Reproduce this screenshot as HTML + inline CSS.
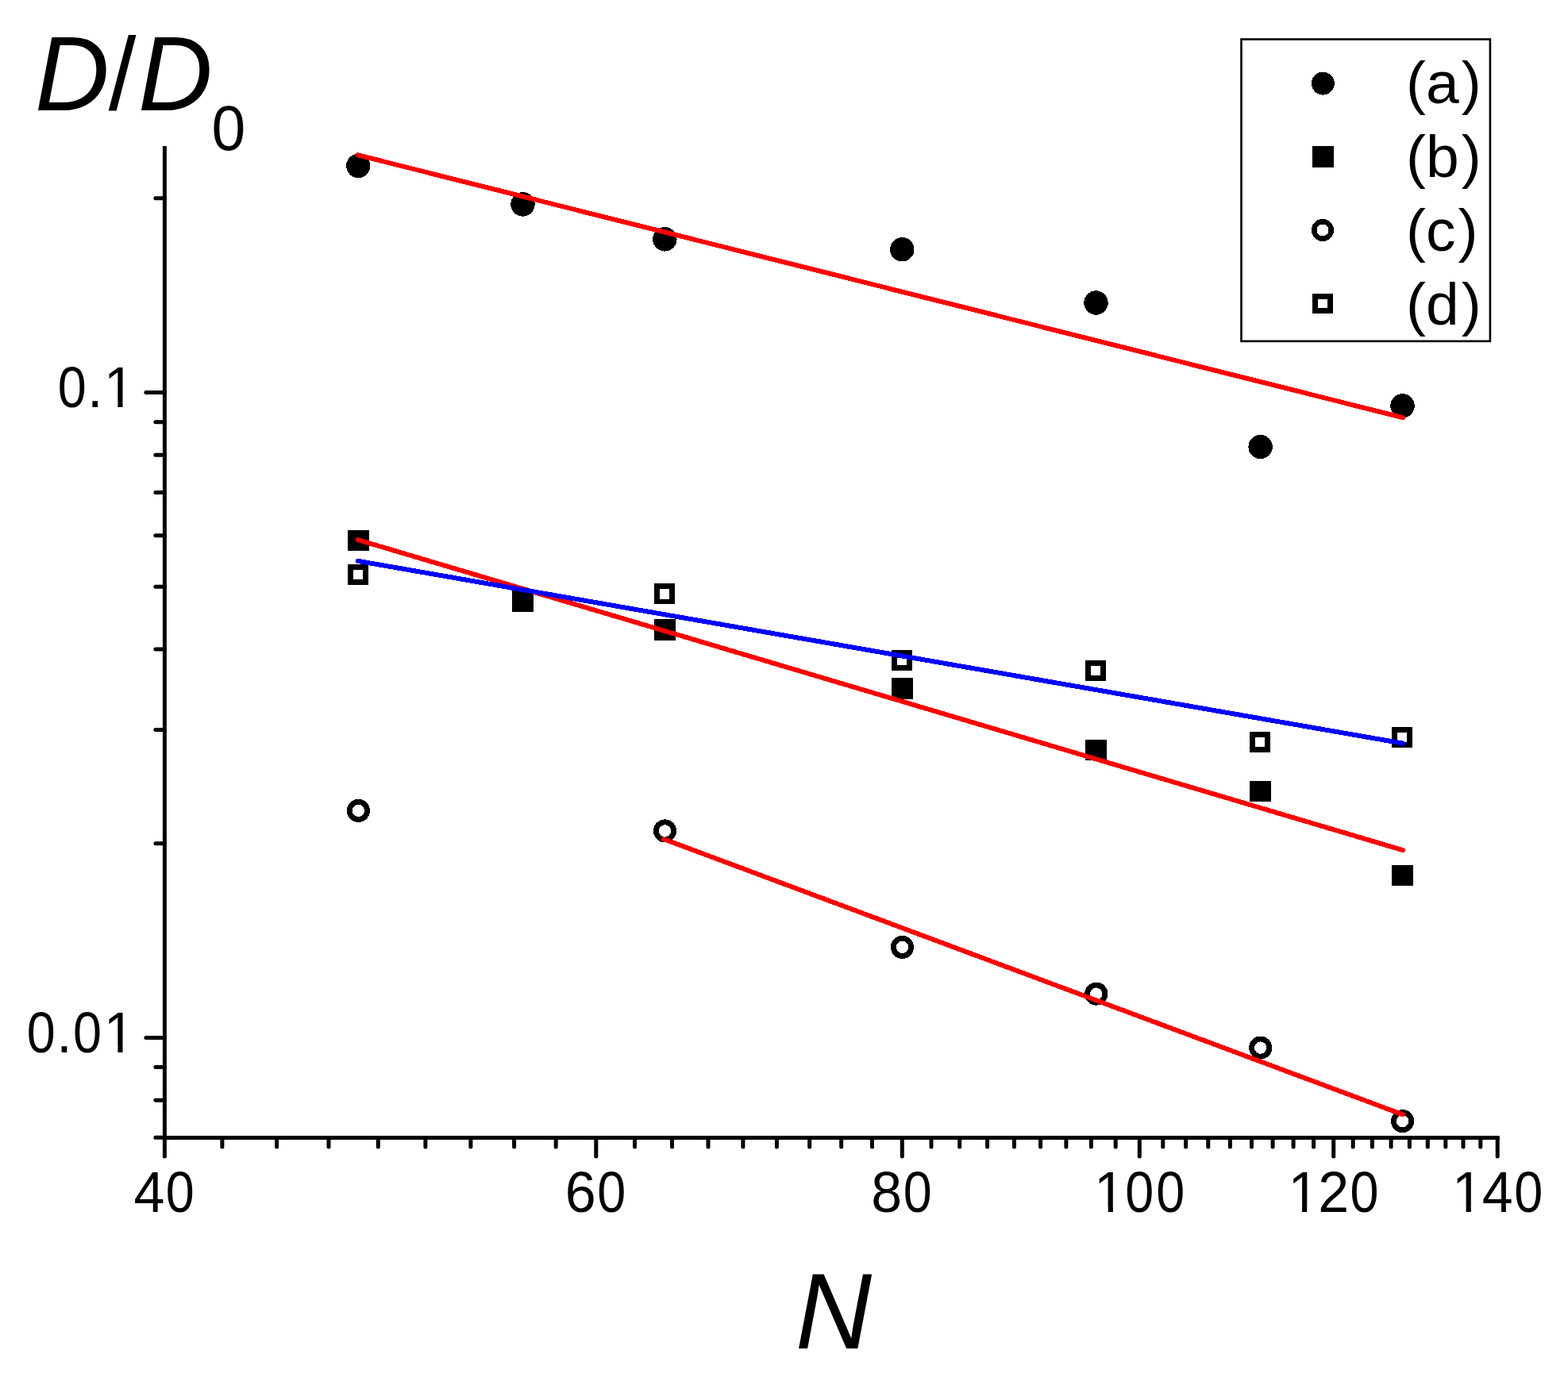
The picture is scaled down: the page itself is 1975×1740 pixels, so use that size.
<!DOCTYPE html>
<html><head><meta charset="utf-8"><title>D/D0 vs N</title>
<style>html,body{margin:0;padding:0;background:#fff}svg{display:block}</style>
</head><body>
<svg width="1975" height="1740" viewBox="0 0 1975 1740">
<rect width="100%" height="100%" fill="#fff"/>
<g fill="#000" shape-rendering="crispEdges">
<circle cx="451.3" cy="209" r="15.2"/>
<circle cx="658.5" cy="257.4" r="15.2"/>
<circle cx="837.4" cy="301.4" r="15.2"/>
<circle cx="1136.3" cy="314.3" r="15.2"/>
<circle cx="1380.5" cy="381.5" r="15.2"/>
<circle cx="1587.6" cy="563" r="15.2"/>
<circle cx="1766.5" cy="511.4" r="15.2"/>
<rect x="438.0" y="667.7" width="26.8" height="26.4"/>
<rect x="645.1" y="744.3" width="26.8" height="26.4"/>
<rect x="824.1" y="780.2" width="26.8" height="26.4"/>
<rect x="1123.1" y="854.1" width="26.8" height="26.4"/>
<rect x="1367.1" y="931.6" width="26.8" height="26.4"/>
<rect x="1574.1" y="983.6" width="26.8" height="26.4"/>
<rect x="1753.1" y="1089.5" width="26.8" height="26.4"/>
</g><g fill="none" stroke="#000" shape-rendering="crispEdges">
<circle cx="451.4" cy="1021.4" r="11.1" stroke-width="6.9"/>
<circle cx="837.5" cy="1046.9" r="11.1" stroke-width="6.9"/>
<circle cx="1136.5" cy="1193.4" r="11.1" stroke-width="6.9"/>
<circle cx="1380.8" cy="1252.1" r="11.1" stroke-width="6.9"/>
<circle cx="1587.7" cy="1320.1" r="11.1" stroke-width="6.9"/>
<circle cx="1766.6" cy="1412.7" r="11.1" stroke-width="6.9"/>
<rect x="441.3" y="714.4" width="19.2" height="19.2" stroke-width="6.8"/>
<rect x="827.4" y="738.8" width="19.2" height="19.2" stroke-width="6.8"/>
<rect x="1126.4" y="822.4" width="19.2" height="19.2" stroke-width="6.8"/>
<rect x="1370.4" y="835.4" width="19.2" height="19.2" stroke-width="6.8"/>
<rect x="1577.4" y="925.3" width="19.2" height="19.2" stroke-width="6.8"/>
<rect x="1756.4" y="919.4" width="19.2" height="19.2" stroke-width="6.8"/>
</g>
<g fill="none" stroke-width="6" stroke-linecap="round" shape-rendering="crispEdges">
<line x1="450.7" y1="195.35" x2="1767.1" y2="526.15" stroke="#f00"/>
<line x1="450.7" y1="680.1" x2="1767.1" y2="1071.2" stroke="#f00"/>
<line x1="450.7" y1="706.8" x2="1767.1" y2="936.6" stroke="#00f"/>
<line x1="836.3" y1="1057.3" x2="1767.1" y2="1404.4" stroke="#f00"/>
</g>
<g stroke="#000" stroke-width="5" stroke-linecap="round" fill="none">
<line x1="207.4" y1="186.5" x2="207.4" y2="1433.6" stroke-linecap="square"/>
<line x1="207.4" y1="1433.6" x2="1886.2" y2="1433.6" stroke-linecap="square"/>
<line x1="183.9" y1="494.5" x2="207.4" y2="494.5"/>
<line x1="183.9" y1="1307.4" x2="207.4" y2="1307.4"/>
<line x1="195.9" y1="249.8" x2="207.4" y2="249.8"/>
<line x1="195.9" y1="531.7" x2="207.4" y2="531.7"/>
<line x1="195.9" y1="573.3" x2="207.4" y2="573.3"/>
<line x1="195.9" y1="620.4" x2="207.4" y2="620.4"/>
<line x1="195.9" y1="674.8" x2="207.4" y2="674.8"/>
<line x1="195.9" y1="739.2" x2="207.4" y2="739.2"/>
<line x1="195.9" y1="818.0" x2="207.4" y2="818.0"/>
<line x1="195.9" y1="919.5" x2="207.4" y2="919.5"/>
<line x1="195.9" y1="1062.7" x2="207.4" y2="1062.7"/>
<line x1="195.9" y1="1344.6" x2="207.4" y2="1344.6"/>
<line x1="195.9" y1="1386.2" x2="207.4" y2="1386.2"/>
<line x1="195.9" y1="1433.3" x2="207.4" y2="1433.3"/>
<line x1="207.4" y1="1433.6" x2="207.4" y2="1457.1"/>
<line x1="750.8" y1="1433.6" x2="750.8" y2="1457.1"/>
<line x1="1136.3" y1="1433.6" x2="1136.3" y2="1457.1"/>
<line x1="1435.3" y1="1433.6" x2="1435.3" y2="1457.1"/>
<line x1="1679.7" y1="1433.6" x2="1679.7" y2="1457.1"/>
<line x1="1886.2" y1="1433.6" x2="1886.2" y2="1457.1"/>
<line x1="279.9" y1="1433.6" x2="279.9" y2="1445.1"/>
<line x1="348.6" y1="1433.6" x2="348.6" y2="1445.1"/>
<line x1="414.0" y1="1433.6" x2="414.0" y2="1445.1"/>
<line x1="476.3" y1="1433.6" x2="476.3" y2="1445.1"/>
<line x1="535.9" y1="1433.6" x2="535.9" y2="1445.1"/>
<line x1="592.9" y1="1433.6" x2="592.9" y2="1445.1"/>
<line x1="647.6" y1="1433.6" x2="647.6" y2="1445.1"/>
<line x1="700.2" y1="1433.6" x2="700.2" y2="1445.1"/>
<line x1="799.5" y1="1433.6" x2="799.5" y2="1445.1"/>
<line x1="846.5" y1="1433.6" x2="846.5" y2="1445.1"/>
<line x1="892.0" y1="1433.6" x2="892.0" y2="1445.1"/>
<line x1="935.9" y1="1433.6" x2="935.9" y2="1445.1"/>
<line x1="978.4" y1="1433.6" x2="978.4" y2="1445.1"/>
<line x1="1019.7" y1="1433.6" x2="1019.7" y2="1445.1"/>
<line x1="1059.7" y1="1433.6" x2="1059.7" y2="1445.1"/>
<line x1="1098.5" y1="1433.6" x2="1098.5" y2="1445.1"/>
<line x1="1173.0" y1="1433.6" x2="1173.0" y2="1445.1"/>
<line x1="1208.7" y1="1433.6" x2="1208.7" y2="1445.1"/>
<line x1="1243.6" y1="1433.6" x2="1243.6" y2="1445.1"/>
<line x1="1277.5" y1="1433.6" x2="1277.5" y2="1445.1"/>
<line x1="1310.6" y1="1433.6" x2="1310.6" y2="1445.1"/>
<line x1="1342.9" y1="1433.6" x2="1342.9" y2="1445.1"/>
<line x1="1374.4" y1="1433.6" x2="1374.4" y2="1445.1"/>
<line x1="1405.2" y1="1433.6" x2="1405.2" y2="1445.1"/>
<line x1="1464.8" y1="1433.6" x2="1464.8" y2="1445.1"/>
<line x1="1493.6" y1="1433.6" x2="1493.6" y2="1445.1"/>
<line x1="1521.8" y1="1433.6" x2="1521.8" y2="1445.1"/>
<line x1="1549.4" y1="1433.6" x2="1549.4" y2="1445.1"/>
<line x1="1576.5" y1="1433.6" x2="1576.5" y2="1445.1"/>
<line x1="1603.1" y1="1433.6" x2="1603.1" y2="1445.1"/>
<line x1="1629.1" y1="1433.6" x2="1629.1" y2="1445.1"/>
<line x1="1654.6" y1="1433.6" x2="1654.6" y2="1445.1"/>
<line x1="1704.2" y1="1433.6" x2="1704.2" y2="1445.1"/>
<line x1="1728.4" y1="1433.6" x2="1728.4" y2="1445.1"/>
<line x1="1752.1" y1="1433.6" x2="1752.1" y2="1445.1"/>
<line x1="1775.4" y1="1433.6" x2="1775.4" y2="1445.1"/>
<line x1="1798.3" y1="1433.6" x2="1798.3" y2="1445.1"/>
<line x1="1820.8" y1="1433.6" x2="1820.8" y2="1445.1"/>
<line x1="1843.0" y1="1433.6" x2="1843.0" y2="1445.1"/>
<line x1="1864.8" y1="1433.6" x2="1864.8" y2="1445.1"/>
</g>
<rect x="1563.5" y="49.5" width="313.4" height="380.4" fill="none" stroke="#000" stroke-width="2.6"/>
<g shape-rendering="crispEdges">
<circle cx="1666.3" cy="105.1" r="14.5" fill="#000"/>
<rect x="1653" y="183.8" width="27" height="27" fill="#000"/>
<circle cx="1666" cy="290" r="10.8" fill="none" stroke="#000" stroke-width="6.6"/>
<rect x="1656.5" y="373.3" width="19.1" height="18.6" fill="none" stroke="#000" stroke-width="7"/>
</g>
<text x="1771" y="130.3" font-size="75" font-family="&apos;Liberation Sans&apos;, Arial, sans-serif">(a<tspan dx="3">)</tspan></text>
<text x="1771" y="223.1" font-size="75" font-family="&apos;Liberation Sans&apos;, Arial, sans-serif">(b<tspan dx="3">)</tspan></text>
<text x="1771" y="315.9" font-size="75" font-family="&apos;Liberation Sans&apos;, Arial, sans-serif">(c<tspan dx="3">)</tspan></text>
<text x="1771" y="408.7" font-size="75" font-family="&apos;Liberation Sans&apos;, Arial, sans-serif">(d<tspan dx="3">)</tspan></text>
<defs><clipPath id="c3" clipPathUnits="userSpaceOnUse"><rect x="-30" y="-150" width="176.79" height="143.57"/><rect x="-30.00" y="-6.43" width="35.53" height="36.43"/><rect x="18.80" y="-6.43" width="6.19" height="36.43"/><rect x="37.71" y="-6.43" width="109.08" height="36.43"/></clipPath><clipPath id="c4" clipPathUnits="userSpaceOnUse"><rect x="-30" y="-150" width="176.79" height="143.57"/><rect x="-30.00" y="-6.43" width="35.53" height="36.43"/><rect x="18.80" y="-6.43" width="6.19" height="36.43"/><rect x="37.71" y="-6.43" width="109.08" height="36.43"/></clipPath><clipPath id="c5" clipPathUnits="userSpaceOnUse"><rect x="-30" y="-150" width="176.79" height="143.57"/><rect x="-30.00" y="-6.43" width="35.53" height="36.43"/><rect x="18.80" y="-6.43" width="6.19" height="36.43"/><rect x="37.71" y="-6.43" width="109.08" height="36.43"/></clipPath><clipPath id="c6" clipPathUnits="userSpaceOnUse"><rect x="-30" y="-150" width="157.31" height="143.57"/><rect x="-30.00" y="-6.43" width="93.91" height="36.43"/><rect x="77.18" y="-6.43" width="6.19" height="36.43"/><rect x="96.09" y="-6.43" width="31.22" height="36.43"/></clipPath><clipPath id="c7" clipPathUnits="userSpaceOnUse"><rect x="-30" y="-150" width="196.24" height="143.57"/><rect x="-30.00" y="-6.43" width="132.84" height="36.43"/><rect x="116.11" y="-6.43" width="6.19" height="36.43"/><rect x="135.02" y="-6.43" width="31.22" height="36.43"/></clipPath></defs>
<text transform="translate(168.47,1527.00) scale(1,1.03)" font-size="70" font-family="&apos;Liberation Sans&apos;, Arial, sans-serif"><tspan x="0.00">4</tspan><tspan x="40.39" textLength="36.01" lengthAdjust="spacingAndGlyphs">0</tspan></text>
<text transform="translate(711.83,1527.00) scale(1,1.03)" font-size="70" font-family="&apos;Liberation Sans&apos;, Arial, sans-serif"><tspan x="0.00">6</tspan><tspan x="40.39" textLength="36.01" lengthAdjust="spacingAndGlyphs">0</tspan></text>
<text transform="translate(1097.36,1527.00) scale(1,1.03)" font-size="70" font-family="&apos;Liberation Sans&apos;, Arial, sans-serif"><tspan x="0.00">8</tspan><tspan x="40.39" textLength="36.01" lengthAdjust="spacingAndGlyphs">0</tspan></text>
<text transform="translate(1376.93,1527.00) scale(1,1.03)" font-size="70" font-family="&apos;Liberation Sans&apos;, Arial, sans-serif" clip-path="url(#c3)"><tspan x="1.20">1</tspan><tspan x="40.39" textLength="36.01" lengthAdjust="spacingAndGlyphs">0</tspan><tspan x="79.32" textLength="36.01" lengthAdjust="spacingAndGlyphs">0</tspan></text>
<text transform="translate(1621.25,1527.00) scale(1,1.03)" font-size="70" font-family="&apos;Liberation Sans&apos;, Arial, sans-serif" clip-path="url(#c4)"><tspan x="1.20">1</tspan><tspan x="38.93">2</tspan><tspan x="79.32" textLength="36.01" lengthAdjust="spacingAndGlyphs">0</tspan></text>
<text transform="translate(1827.83,1527.00) scale(1,1.03)" font-size="70" font-family="&apos;Liberation Sans&apos;, Arial, sans-serif" clip-path="url(#c5)"><tspan x="1.20">1</tspan><tspan x="38.93">4</tspan><tspan x="79.32" textLength="36.01" lengthAdjust="spacingAndGlyphs">0</tspan></text>
<text transform="translate(71.19,512.80) scale(1,1.03)" font-size="70" font-family="&apos;Liberation Sans&apos;, Arial, sans-serif" clip-path="url(#c6)"><tspan x="1.46" textLength="36.01" lengthAdjust="spacingAndGlyphs">0</tspan><tspan x="38.93">.</tspan><tspan x="59.58">1</tspan></text>
<text transform="translate(32.26,1325.90) scale(1,1.03)" font-size="70" font-family="&apos;Liberation Sans&apos;, Arial, sans-serif" clip-path="url(#c7)"><tspan x="1.46" textLength="36.01" lengthAdjust="spacingAndGlyphs">0</tspan><tspan x="38.93">.</tspan><tspan x="59.84" textLength="36.01" lengthAdjust="spacingAndGlyphs">0</tspan><tspan x="98.51">1</tspan></text>
<text transform="translate(0,138.7) scale(1,1.035)" font-size="130" font-family="&apos;Liberation Sans&apos;, Arial, sans-serif"><tspan x="44.1" y="0" font-style="italic">D</tspan><tspan x="136.7" y="-0.29" font-size="125">/</tspan><tspan x="174.1" y="0" font-style="italic">D</tspan><tspan x="266.6" y="48.21" font-size="77">0</tspan></text>
<text transform="translate(1002.1,1698.8) scale(1,1.02)" font-size="133" font-style="italic" font-family="&apos;Liberation Sans&apos;, Arial, sans-serif">N</text>
</svg>
</body></html>
